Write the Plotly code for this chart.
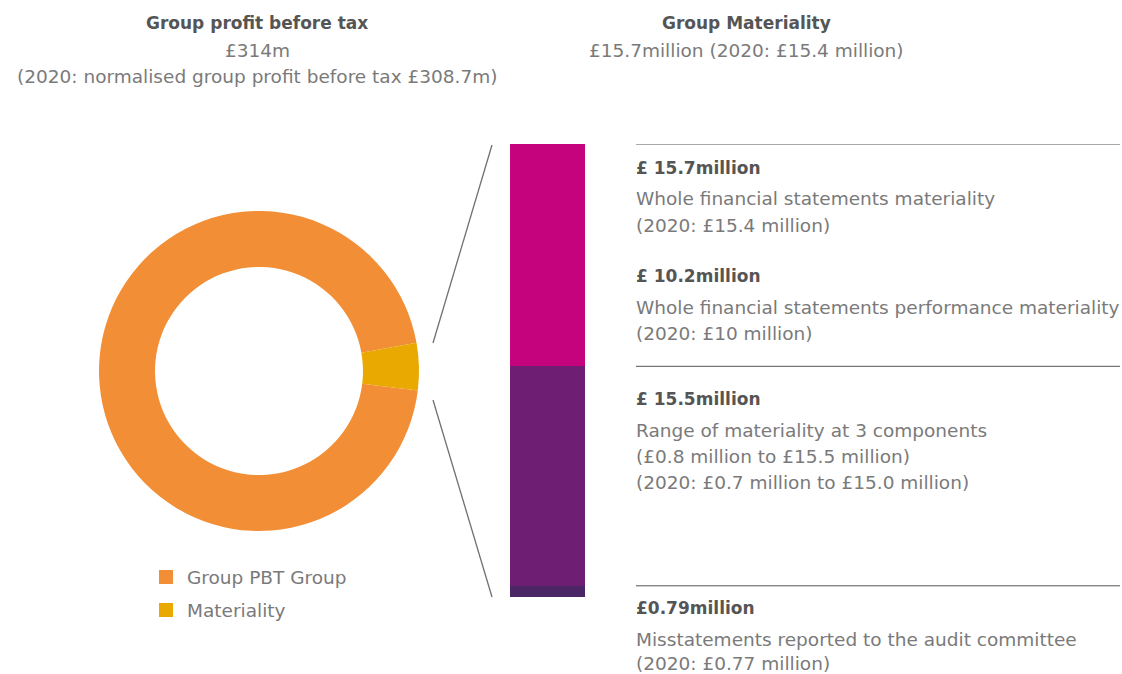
import plotly.graph_objects as go

W, H = 1122, 674

# Donut: group profit before tax vs. group materiality (£m)
pie_labels = ["Group PBT Group", "Materiality"]
pie_values = [314, 15.7]
pie_colors = ["#F28E35", "#E9A900"]

# Stacked materiality bar (£m), bottom to top
bar_names = ["Misstatements reported", "Component materiality", "Group materiality"]
bar_values = [0.79, 15.5, 15.7]
bar_colors = ["#4A2664", "#6E1F73", "#C5037D"]

# Text blocks beside the bar
block_heads = ["£ 15.7million", "£ 10.2million", "£ 15.5million", "£0.79million"]
block_lines = [
    ["Whole financial statements materiality", "(2020: £15.4 million)"],
    ["Whole financial statements performance materiality", "(2020: £10 million)"],
    ["Range of materiality at 3 components", "(£0.8 million to £15.5 million)",
     "(2020: £0.7 million to £15.0 million)"],
    ["Misstatements reported to the audit committee", "(2020: £0.77 million)"],
]
block_top_px = [168, 276, 399, 608]
block_line_gap = [26, 26, 26, 24]

FONT = "DejaVu Sans"
BOLD_C = "#555555"
REG_C = "#7a7a7a"
BOLD_SIZE = 17
REG_SIZE = 18.5


def px_x(x):
    return x / W


def px_y(y):
    return 1 - y / H


fig = go.Figure()

fig.add_trace(go.Pie(
    labels=pie_labels, values=pie_values, sort=False, direction="clockwise",
    rotation=97, hole=0.65, textinfo="none", hoverinfo="label+value",
    marker=dict(colors=pie_colors, line=dict(width=0)),
    domain=dict(x=[px_x(99), px_x(419)], y=[px_y(531), px_y(211)]),
    showlegend=False,
))

for name, v, c in zip(bar_names, bar_values, bar_colors):
    fig.add_trace(go.Bar(
        x=["Materiality"], y=[v], name=name, marker=dict(color=c, line=dict(width=0)),
        showlegend=False, hoverinfo="name+y",
    ))

total = sum(bar_values)

shapes = []
# connector lines from the donut's materiality slice to the bar
shapes.append(dict(type="line", xref="paper", yref="paper",
                   x0=px_x(492), y0=px_y(145), x1=px_x(433), y1=px_y(343),
                   line=dict(color="#707070", width=1.3)))
shapes.append(dict(type="line", xref="paper", yref="paper",
                   x0=px_x(433), y0=px_y(400), x1=px_x(492), y1=px_y(597),
                   line=dict(color="#707070", width=1.3)))
# rules at the segment boundaries
cum = 0
bounds = []
for v in bar_values:
    cum += v
    bounds.append(cum)
for b in [bounds[2], bounds[1], bounds[0]]:
    shapes.append(dict(type="line", xref="paper", yref="y",
                       x0=px_x(636), x1=px_x(1120), y0=b, y1=b,
                       line=dict(color="#555555", width=1)))

annotations = []


def text(x, y, s, bold=False, anchor="left"):
    annotations.append(dict(
        x=px_x(x), y=px_y(y), xref="paper", yref="paper", text=s, showarrow=False,
        xanchor=anchor, yanchor="middle", borderpad=0, borderwidth=0,
        font=dict(family=FONT, size=BOLD_SIZE if bold else REG_SIZE,
                  color=BOLD_C if bold else REG_C,
                  weight="bold" if bold else "normal"),
    ))


text(257, 23, "Group profit before tax", bold=True, anchor="center")
text(257, 50, "£314m", anchor="center")
text(257, 76, "(2020: normalised group profit before tax £308.7m)", anchor="center")
text(746, 23, "Group Materiality", bold=True, anchor="center")
text(746, 50, "£15.7million (2020: £15.4 million)", anchor="center")

for head, lines, top, gap in zip(block_heads, block_lines, block_top_px, block_line_gap):
    text(636, top, head, bold=True)
    for i, ln in enumerate(lines):
        text(636, top + 31 + gap * i, ln)

# donut key: colour swatch + label per slice
for i, (lab, col) in enumerate(zip(pie_labels, pie_colors)):
    cy = 577 + 33 * i
    shapes.append(dict(type="rect", xref="paper", yref="paper",
                       x0=px_x(159), x1=px_x(173), y0=px_y(cy - 7), y1=px_y(cy + 7),
                       fillcolor=col, line=dict(width=0)))
    text(187, cy, lab)

fig.update_layout(
    width=W, height=H, autosize=False,
    margin=dict(l=0, r=0, t=0, b=0),
    paper_bgcolor="white", plot_bgcolor="white",
    barmode="stack", bargap=0, showlegend=False,
    xaxis=dict(domain=[px_x(510), px_x(585)], visible=False),
    yaxis=dict(domain=[px_y(597), px_y(144)], range=[0, total], visible=False),
    shapes=shapes, annotations=annotations,
)

fig.write_html("out.html")
